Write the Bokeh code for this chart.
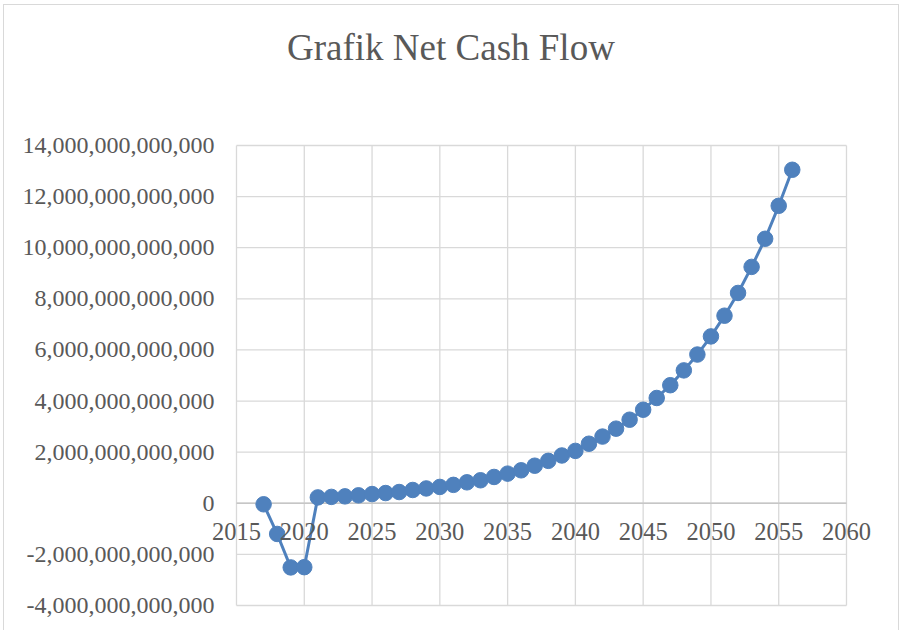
from bokeh.plotting import figure
from bokeh.models import ColumnDataSource, Range1d, LabelSet, Label
from bokeh.embed import file_html
from bokeh.resources import INLINE

years = [2017, 2018, 2019, 2020, 2021, 2022, 2023, 2024, 2025, 2026,
         2027, 2028, 2029, 2030, 2031, 2032, 2033, 2034, 2035, 2036,
         2037, 2038, 2039, 2040, 2041, 2042, 2043, 2044, 2045, 2046,
         2047, 2048, 2049, 2050, 2051, 2052, 2053, 2054, 2055, 2056]
# net cash flow, trillions
net_cash_flow_t = [-0.04, -1.20, -2.51, -2.50, 0.23, 0.25, 0.27, 0.31, 0.36, 0.40,
                   0.44, 0.52, 0.58, 0.64, 0.72, 0.82, 0.90, 1.03, 1.16, 1.29,
                   1.47, 1.66, 1.87, 2.05, 2.33, 2.61, 2.92, 3.27, 3.66, 4.12,
                   4.62, 5.20, 5.82, 6.53, 7.34, 8.23, 9.25, 10.35, 11.64, 13.05]
x_ticks = [2015, 2020, 2025, 2030, 2035, 2040, 2045, 2050, 2055, 2060]
x_tick_labels = ["2015", "2020", "2025", "2030", "2035", "2040", "2045", "2050", "2055", "2060"]
y_ticks = [-4e12, -2e12, 0, 2e12, 4e12, 6e12, 8e12, 10e12, 12e12, 14e12]
y_tick_labels = ["-4,000,000,000,000", "-2,000,000,000,000", "0", "2,000,000,000,000",
                 "4,000,000,000,000", "6,000,000,000,000", "8,000,000,000,000",
                 "10,000,000,000,000", "12,000,000,000,000", "14,000,000,000,000"]
title_text = "Grafik Net Cash Flow"

TXT = "#595959"
GRID = "#d9d9d9"
BLUE = "#4f81bd"
FONT = "Liberation Serif"

xmin, xmax = x_ticks[0], x_ticks[-1]
ymin, ymax = y_ticks[0], y_ticks[-1]

source = ColumnDataSource(dict(x=years, y=[v * 1e12 for v in net_cash_flow_t]))
xtick_src = ColumnDataSource(dict(x=x_ticks, y=[0] * len(x_ticks), t=x_tick_labels))
ytick_src = ColumnDataSource(dict(x=[xmin] * len(y_ticks), y=y_ticks, t=y_tick_labels))

# the frame covers the whole canvas; the plot area spans 2015..2060 / -4e12..14e12
p = figure(width=896, height=630, output_backend="svg", toolbar_location=None,
           x_axis_type=None, y_axis_type=None,
           x_range=Range1d(1997.885, 2063.984), y_range=Range1d(-5.174e12, 19.478e12),
           min_border=0)
p.styles = {"border": "1px solid #d9d9d9", "margin-left": "3px", "margin-top": "4px"}
p.outline_line_color = None
p.background_fill_color = "white"
p.border_fill_color = "white"

# gridlines, bounded to the plot area
p.segment(x0=xmin, x1=xmax, y0=y_ticks, y1=y_ticks, line_color=GRID, line_width=1.3)
p.segment(x0=x_ticks, x1=x_ticks, y0=ymin, y1=ymax, line_color=GRID, line_width=1.3)
# horizontal axis line at zero
p.segment(x0=[xmin], x1=[xmax], y0=[0], y1=[0], line_color="#c6c6c6", line_width=1.3)

p.add_layout(LabelSet(x="x", y="y", text="t", source=ytick_src, x_offset=-22,
                      text_align="right", text_baseline="middle", text_font=FONT,
                      text_font_size="24px", text_color=TXT))
p.add_layout(LabelSet(x="x", y="y", text="t", source=xtick_src, y_offset=-28,
                      text_align="center", text_baseline="middle", text_font=FONT,
                      text_font_size="24.5px", text_color=TXT))
p.add_layout(Label(x=2030.82, y=17.83e12, text=title_text, text_align="center",
                   text_baseline="middle", text_font=FONT, text_font_size="37px",
                   text_color=TXT))

p.line("x", "y", source=source, line_color=BLUE, line_width=3)
p.scatter("x", "y", source=source, size=15.5, fill_color=BLUE, line_color=BLUE)

open("out.html", "w").write(file_html(p, INLINE))
